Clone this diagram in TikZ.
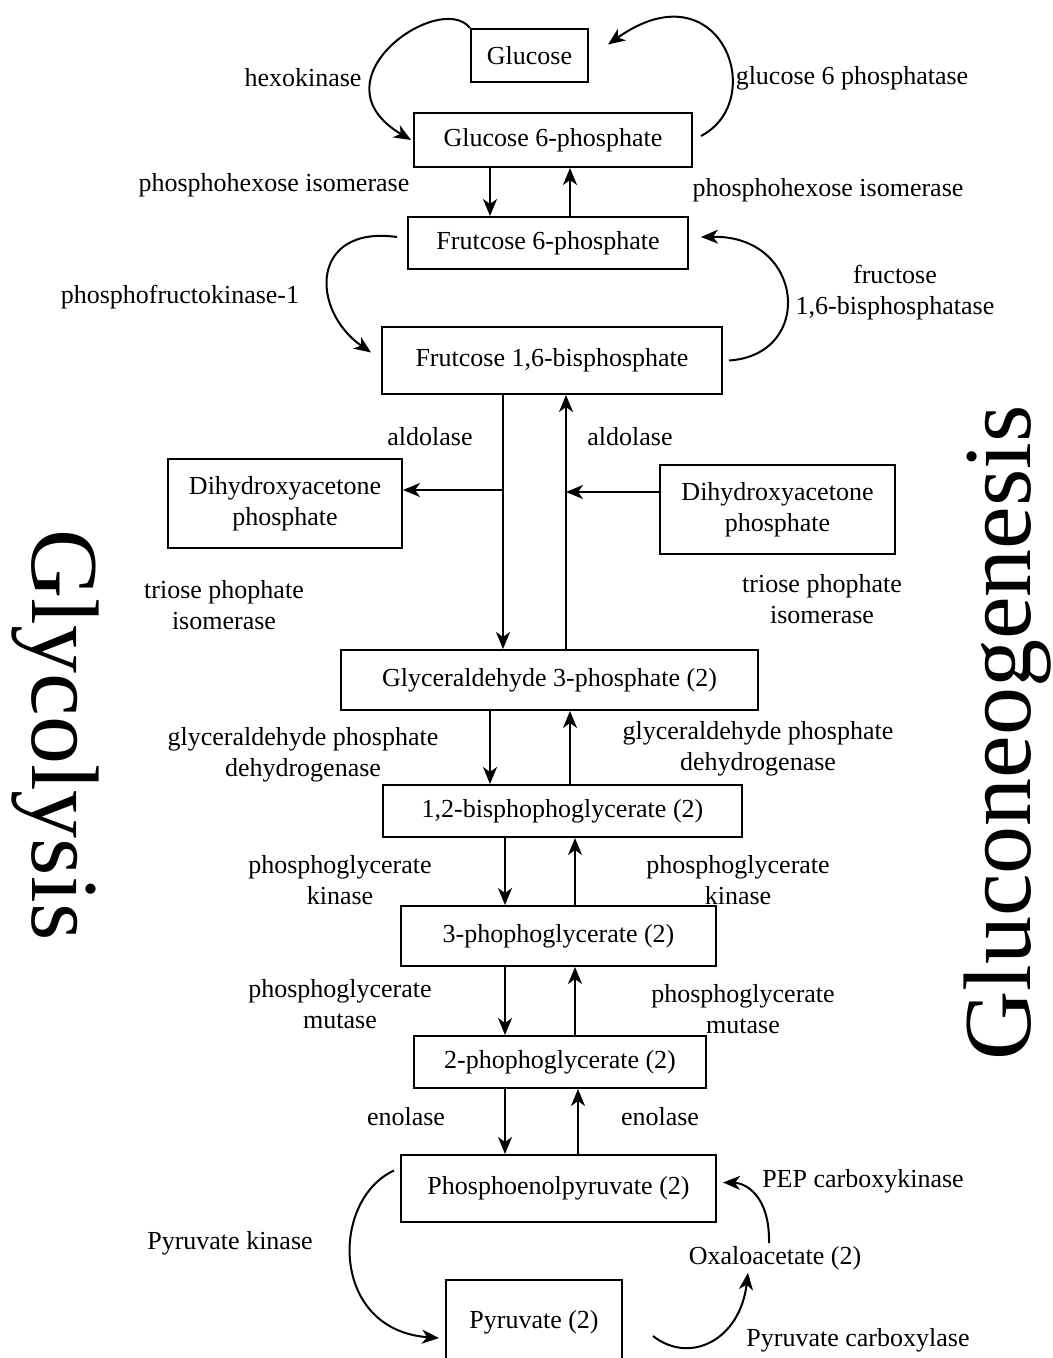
\documentclass[tikz,border=0pt]{standalone}
\usepackage{fontspec}
\setmainfont{Liberation Serif}
\usetikzlibrary{arrows.meta}

\newcommand{\enzfont}{\fontsize{13}{15.5}\selectfont}
\tikzset{
    box/.style={draw, line width=1pt, inner sep=0pt, align=center, font=\enzfont},
    enz/.style={align=center, font=\enzfont, inner sep=1pt},
    bigtitle/.style={font=\fontsize{48}{50}\selectfont, inner sep=0pt},
}

\begin{document}
\begin{tikzpicture}[x=0.5pt, y=-0.5pt, line width=1pt, >={Stealth[length=8.5pt,width=7pt,inset=2.5pt]}]
    \useasboundingbox (0,0) rectangle (1053,1358);

    % metabolites
    \node[box, minimum width=58.5pt, minimum height=26.5pt] (glc) at (529.5,55.5) {Glucose};
    \node[box, minimum width=139pt, minimum height=27pt] (g6p) at (553,140) {Glucose 6-phosphate};
    \node[box, minimum width=140pt, minimum height=26pt] (f6p) at (548,243) {Frutcose 6-phosphate};
    \node[box, minimum width=170pt, minimum height=33.5pt] (f16bp) at (552,360.5) {Frutcose 1,6-bisphosphate};
    \node[box, minimum width=117pt, minimum height=44.5pt] (dhapL) at (285,503.5) {Dihydroxyacetone\\phosphate};
    \node[box, minimum width=117.5pt, minimum height=44.5pt] (dhapR) at (777.5,509.5) {Dihydroxyacetone\\phosphate};
    \node[box, minimum width=208.5pt, minimum height=30pt] (g3p) at (549.5,680) {Glyceraldehyde 3-phosphate (2)};
    \node[box, minimum width=179.5pt, minimum height=26pt] (bpg) at (562.5,811) {1,2-bisphophoglycerate (2)};
    \node[box, minimum width=157.5pt, minimum height=30pt] (pgc3) at (558.5,936) {3-phophoglycerate (2)};
    \node[box, minimum width=146pt, minimum height=26pt] (pgc2) at (560,1062) {2-phophoglycerate (2)};
    \node[box, minimum width=157.5pt, minimum height=33.5pt] (pep) at (558.5,1188.5) {Phosphoenolpyruvate (2)};
    \node[box, minimum width=88pt, minimum height=42pt] (pyr) at (534,1322) {Pyruvate (2)};
    \node[enz] (oaa) at (775,1258) {Oxaloacetate (2)};

    % enzymes
    \node[enz] (hk) at (303,78) {hexokinase};
    \node[enz] (g6pase) at (852,78) {glucose 6 phosphatase};
    \node[enz] (phiL) at (274,185) {phosphohexose isomerase};
    \node[enz] (phiR) at (828,190) {phosphohexose isomerase};
    \node[enz] (pfk) at (180,297) {phosphofructokinase-1};
    \node[enz] (fbpase) at (895,293) {fructose\\1,6-bisphosphatase};
    \node[enz] (aldL) at (430,437) {aldolase};
    \node[enz] (aldR) at (630,437) {aldolase};
    \node[enz] (tpiL) at (224,605) {triose phophate\\isomerase};
    \node[enz] (tpiR) at (822,599) {triose phophate\\isomerase};
    \node[enz] (gapdhL) at (303,755) {glyceraldehyde phosphate\\dehydrogenase};
    \node[enz] (gapdhR) at (758,749) {glyceraldehyde phosphate\\dehydrogenase};
    \node[enz] (pgkL) at (340,880) {phosphoglycerate\\kinase};
    \node[enz] (pgkR) at (738,880) {phosphoglycerate\\kinase};
    \node[enz] (pgmL) at (340,1004) {phosphoglycerate\\mutase};
    \node[enz] (pgmR) at (743,1009) {phosphoglycerate\\mutase};
    \node[enz] (enoL) at (406,1117) {enolase};
    \node[enz] (enoR) at (660,1117) {enolase};
    \node[enz] (pepck) at (863,1181) {PEP carboxykinase};
    \node[enz] (pk) at (230,1243) {Pyruvate kinase};
    \node[enz] (pcx) at (858,1340) {Pyruvate carboxylase};

    \node[bigtitle, rotate=-90] (glyco) at (55,735) {Glycolysis};
    \node[bigtitle, rotate=90] (gneo) at (1008,733) {Gluconeogenesis};

    % straight steps
    \draw[->] (g6p.south -| 490,0) -- (f6p.north -| 490,0);
    \draw[->] (f6p.north -| 570,0) -- (g6p.south -| 570,0);
    \draw[->] (f16bp.south -| 503,0) -- (g3p.north -| 503,0);
    \draw[->] (g3p.north -| 566,0) -- (f16bp.south -| 566,0);
    \coordinate (brL) at (503,490);
    \coordinate (brR) at (566,492);
    \draw[->] (brL) -- (dhapL.east |- brL);
    \draw[->] (dhapR.west |- brR) -- (brR);
    \draw[->] (g3p.south -| 490,0) -- (bpg.north -| 490,0);
    \draw[->] (bpg.north -| 570,0) -- (g3p.south -| 570,0);
    \draw[->] (bpg.south -| 505,0) -- (pgc3.north -| 505,0);
    \draw[->] (pgc3.north -| 575,0) -- (bpg.south -| 575,0);
    \draw[->] (pgc3.south -| 505,0) -- (pgc2.north -| 505,0);
    \draw[->] (pgc2.north -| 575,0) -- (pgc3.south -| 575,0);
    \draw[->] (pgc2.south -| 505,0) -- (pep.north -| 505,0);
    \draw[->] (pep.north -| 578,0) -- (pgc2.south -| 578,0);

    % bypass curves
    \draw[->] (glc.north west) .. controls (440,-10) and (310,80) .. ([xshift=-1pt]g6p.west);
    \draw[->] ([xshift=4pt,yshift=2pt]g6p.east) .. controls (770,100) and (720,-35) .. ([xshift=9.5pt,yshift=5.5pt]glc.east);
    \draw[->] ([xshift=-5pt,yshift=3pt]f6p.west) .. controls (310,225) and (310,310) .. ([xshift=-5pt,yshift=4pt]f16bp.west);
    \draw[->] ([xshift=3pt]f16bp.east) .. controls (815,355) and (805,235) .. ([xshift=6pt,yshift=3pt]f6p.east);
    \draw[->] ([xshift=-3pt,yshift=9pt]pep.west) .. controls (330,1200) and (330,1330) .. ([xshift=-3pt,yshift=-8pt]pyr.west);
    \draw[->] ([xshift=15pt,yshift=-7pt]pyr.east) .. controls (690,1365) and (740,1340) .. ([xshift=-13.5pt]oaa.south);
    \draw[->] ([xshift=-3pt]oaa.north) .. controls (770,1195) and (745,1183) .. ([xshift=3pt,yshift=3pt]pep.east);
\end{tikzpicture}
\end{document}
